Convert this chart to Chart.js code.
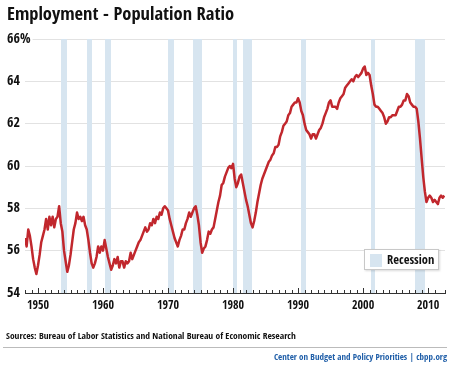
<!DOCTYPE html>
<html>
<head>
<meta charset="utf-8">
<title>Employment - Population Ratio</title>
<style>
  html, body { margin: 0; padding: 0; background: #fff; }
</style>
</head>
<body>
<canvas id="chart" width="451" height="365"></canvas>
<script src="https://cdn.jsdelivr.net/npm/chart.js"></script>
<script>
// employment-population ratio, quarterly, starting 1948 Q1
const firstYear = 1948;
const ratio = [
  56.6, 56.2, 57.0, 56.7,  56.2, 55.6, 55.2, 54.9,  55.3, 55.8, 56.4, 56.7,  // 1948-50
  57.0, 57.5, 57.0, 57.6,  57.2, 57.6, 57.1, 57.5,  57.6, 58.1, 57.3, 56.9,  // 1951-53
  56.0, 55.5, 55.0, 55.3,  55.8, 56.4, 57.0, 57.3,  57.8, 57.5, 57.6, 57.4,  // 1954-56
  57.6, 57.2, 57.0, 56.5,  55.9, 55.4, 55.2, 55.4,  55.7, 56.2, 55.9, 56.2,  // 1957-59
  56.0, 56.5, 56.1, 55.7,  55.4, 55.1, 55.3, 55.6,  55.4, 55.7, 55.2, 55.5,  // 1960-62
  55.5, 55.2, 55.5, 55.4,  55.5, 55.9, 55.6, 55.8,  56.0, 56.2, 56.4, 56.5,  // 1963-65
  56.7, 56.9, 57.1, 56.9,  57.0, 57.3, 57.2, 57.5,  57.3, 57.6, 57.5, 57.8,  // 1966-68
  57.7, 58.0, 58.1, 58.0,  57.9, 57.5, 57.2, 56.9,  56.6, 56.4, 56.2, 56.5,  // 1969-71
  56.7, 57.0, 57.0, 57.3,  57.5, 57.8, 57.6, 57.8,  58.0, 58.1, 57.7, 57.2,  // 1972-74
  56.4, 55.9, 56.1, 56.2,  56.5, 56.9, 56.8, 57.0,  57.1, 57.5, 57.9, 58.3,  // 1975-77
  58.6, 59.1, 59.2, 59.5,  59.7, 59.9, 60.0, 59.9,  60.1, 59.4, 59.0, 59.2,  // 1978-80
  59.5, 59.6, 59.2, 58.8,  58.4, 58.1, 57.7, 57.3,  57.1, 57.4, 57.8, 58.3,  // 1981-83
  58.7, 59.1, 59.4, 59.6,  59.8, 60.0, 60.2, 60.3,  60.5, 60.6, 60.9, 60.9,  // 1984-86
  61.0, 61.4, 61.6, 61.9,  62.0, 62.1, 62.4, 62.5,  62.8, 62.9, 63.0, 63.0,  // 1987-89
  63.2, 63.0, 62.6, 62.4,  62.0, 61.7, 61.6, 61.5,  61.3, 61.5, 61.5, 61.3,  // 1990-92
  61.5, 61.7, 61.8, 62.0,  62.3, 62.5, 62.7, 63.0,  63.1, 62.8, 62.8, 62.8,  // 1993-95
  62.7, 63.0, 63.2, 63.3,  63.4, 63.7, 63.8, 63.9,  64.0, 64.1, 64.0, 64.2,  // 1996-98
  64.3, 64.2, 64.3, 64.4,  64.6, 64.7, 64.3, 64.4,  64.3, 63.8, 63.4, 62.9,  // 1999-2001
  62.8, 62.8, 62.7, 62.6,  62.5, 62.3, 62.0, 62.1,  62.3, 62.3, 62.4, 62.4,  // 2002-04
  62.4, 62.6, 62.8, 62.8,  62.9, 63.1, 63.1, 63.4,  63.3, 63.0, 62.9, 62.8,  // 2005-07
  62.8, 62.7, 62.1, 61.3,  60.4, 59.5, 58.8, 58.3,  58.5, 58.6, 58.5, 58.3,  // 2008-10
  58.4, 58.3, 58.2, 58.5,  58.6, 58.5, 58.6                                  // 2011-12
];

// NBER recessions shown on the chart, as decimal years
const recessionStart = [1953.50, 1957.58, 1960.25, 1969.92, 1973.83, 1980.00, 1981.50, 1990.50, 2001.17, 2007.92];
const recessionEnd   = [1954.37, 1958.29, 1961.10, 1970.83, 1975.20, 1980.50, 1982.83, 1991.20, 2001.83, 2009.50];

const yMin = 54, yMax = 66, yStep = 2;
const xMin = 1948, xMax = 2012.6;

const points = ratio.map((v, i) => ({ x: firstYear + i / 4, y: v }));

const RED = '#c1272d';
const BAND = '#d7e5f0';

// pick the narrowest installed sans font (the original uses a condensed face)
const probeCtx = document.createElement('canvas').getContext('2d');
function textWidth(font, text) {
  probeCtx.font = font;
  return probeCtx.measureText(text).width;
}
function installed(name) {
  const t = 'Employment Population 1950';
  return textWidth('20px monospace', t) !== textWidth(`20px "${name}", monospace`, t) ||
         textWidth('20px serif', t) !== textWidth(`20px "${name}", serif`, t);
}
const candidates = ['Liberation Sans Narrow', 'DejaVu Sans Condensed', 'Roboto Condensed',
  'Open Sans Condensed', 'Arial Narrow', 'Roboto', 'Lato', 'Liberation Sans', 'Noto Sans'];
let FAMILY = 'sans-serif', best = Infinity;
candidates.filter(installed).forEach(n => {
  const w = textWidth(`bold 20px "${n}"`, 'Employment - Population Ratio');
  if (w < best) { best = w; FAMILY = `"${n}"`; }
});
// size a label so it spans about as wide as in the original, capped at a max size
function fitSize(text, weight, target, max) {
  const w = textWidth(`${weight} 20px ${FAMILY}`, text);
  return Math.min(max, Math.floor(20 * target / w * 2) / 2);
}
const titleSize = fitSize('Employment - Population Ratio', 'bold', 232, 21);
const xTickSize = fitSize('1950', 'normal', 23, 13.5);
const yTickSize = fitSize('64', 'normal', 15, 14);
const legendSize = fitSize('Recession', 'normal', 48, 13.5);
const sourceSize = fitSize('Sources: Bureau of Labor Statistics and National Bureau of Economic Research', 'normal', 292, 11);
const creditSize = fitSize('Center on Budget and Policy Priorities | cbpp.org', 'normal', 182, 12);

const extras = {
  id: 'extras',
  beforeDatasetsDraw(chart) {
    const { ctx, chartArea: a, scales: { x } } = chart;
    ctx.save();
    ctx.fillStyle = BAND;
    recessionStart.forEach((s, i) => {
      const x0 = x.getPixelForValue(s);
      const x1 = x.getPixelForValue(recessionEnd[i]);
      ctx.fillRect(Math.round(x0), a.top, Math.max(Math.round(x1 - x0), 4), a.bottom - a.top);
    });
    ctx.restore();
  },
  afterDatasetsDraw(chart) {
    // inward tick marks on the x axis: yearly minor, decade major
    const { ctx, chartArea: a, scales: { x } } = chart;
    ctx.save();
    ctx.strokeStyle = '#333';
    ctx.lineWidth = 1;
    x.ticks.forEach(t => {
      const px = Math.round(x.getPixelForValue(t.value)) + 0.5;
      const len = t.value % 10 === 0 ? 5 : 3;
      ctx.beginPath();
      ctx.moveTo(px, a.bottom);
      ctx.lineTo(px, a.bottom - len);
      ctx.stroke();
    });
    ctx.restore();
  },
  afterDraw(chart) {
    const { ctx } = chart;
    ctx.save();

    // legend box
    ctx.shadowColor = 'rgba(0,0,0,0.15)';
    ctx.shadowBlur = 2;
    ctx.shadowOffsetX = 1;
    ctx.shadowOffsetY = 1;
    ctx.fillStyle = '#fff';
    ctx.fillRect(364, 249, 75, 21);
    ctx.shadowColor = 'transparent';
    ctx.strokeStyle = '#c8c8c8';
    ctx.lineWidth = 1;
    ctx.strokeRect(364.5, 249.5, 74, 20);
    ctx.fillStyle = BAND;
    ctx.fillRect(370, 254, 12, 13);
    ctx.fillStyle = '#111';
    ctx.font = `${legendSize}px ${FAMILY}`;
    ctx.textBaseline = 'middle';
    ctx.textAlign = 'left';
    ctx.fillText('Recession', 387, 260.5);

    // source line, rule and credit
    ctx.fillStyle = '#111';
    ctx.font = `${sourceSize}px ${FAMILY}`;
    ctx.fillText('Sources: Bureau of Labor Statistics and National Bureau of Economic Research', 6, 337);
    ctx.strokeStyle = '#bbb';
    ctx.beginPath();
    ctx.moveTo(3, 347.5);
    ctx.lineTo(447, 347.5);
    ctx.stroke();
    ctx.fillStyle = '#1f5ea8';
    ctx.font = `${creditSize}px ${FAMILY}`;
    ctx.textAlign = 'right';
    ctx.fillText('Center on Budget and Policy Priorities | cbpp.org', 447, 358);
    ctx.restore();
  }
};

new Chart(document.getElementById('chart'), {
  type: 'line',
  data: {
    datasets: [{
      label: 'Employment-population ratio',
      data: points,
      borderColor: RED,
      borderWidth: 2.5,
      pointRadius: 0,
      tension: 0,
      borderJoinStyle: 'round'
    }]
  },
  options: {
    responsive: false,
    animation: false,
    layout: { padding: { left: 7, right: 5, top: 0, bottom: 52 } },
    plugins: {
      legend: { display: false },
      tooltip: { enabled: false },
      title: {
        display: true,
        text: 'Employment - Population Ratio',
        align: 'start',
        color: '#111',
        font: { family: FAMILY, size: titleSize, weight: 'bold', lineHeight: 1.2 },
        padding: { top: 4, bottom: 39 - 4 - titleSize * 1.2 }
      }
    },
    scales: {
      x: {
        type: 'linear',
        min: xMin,
        max: xMax,
        afterFit: s => { s.height = 20; },
        grid: { display: false, drawTicks: false },
        border: { display: true, color: '#333', width: 1 },
        ticks: {
          stepSize: 1,
          autoSkip: false,
          maxRotation: 0,
          padding: 6,
          color: '#111',
          font: { family: FAMILY, size: xTickSize },
          callback: v => (v % 10 === 0 ? String(v) : '')
        }
      },
      y: {
        min: yMin,
        max: yMax,
        afterFit: s => { s.width = 18; },
        grid: { color: '#e2e2e2', drawTicks: false },
        border: { display: false },
        ticks: {
          stepSize: yStep,
          mirror: true,
          padding: -18,
          color: '#111',
          font: { family: FAMILY, size: yTickSize },
          showLabelBackdrop: true,
          backdropColor: '#fff',
          backdropPadding: { left: 0, right: 2, top: 0, bottom: 0 },
          callback: v => (v === yMax ? v + '%' : String(v))
        }
      }
    }
  },
  plugins: [extras]
});
</script>
</body>
</html>
